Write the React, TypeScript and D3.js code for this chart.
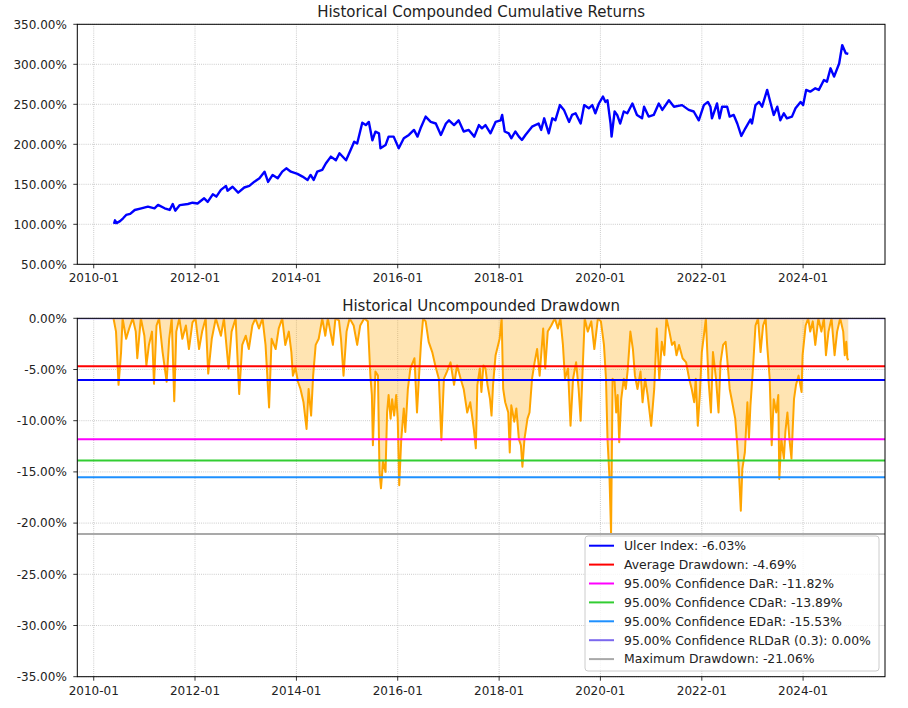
import { useMemo } from "react";
import * as d3 from "d3";

const WIDTH = 908;
const HEIGHT = 708;
const TOP = { left: 77.3, right: 885, top: 24.3, bottom: 264.3 };
const BOTTOM = { left: 77.3, right: 885, top: 318.3, bottom: 676.7 };
const FONT = "DejaVu Sans, sans-serif";

// [decimal year, cumulative return in %]
const cumulative: [number, number][] = [
  [2010.4, 100.5], [2010.42, 105], [2010.45, 101.5], [2010.52, 104], [2010.58, 107.5],
  [2010.64, 111.7], [2010.72, 113], [2010.81, 117.9], [2010.94, 120], [2011.07, 122],
  [2011.2, 120], [2011.27, 124.2], [2011.4, 120], [2011.5, 117.9], [2011.56, 125.4],
  [2011.61, 117], [2011.7, 124], [2011.86, 125.4], [2011.95, 127], [2012.05, 126],
  [2012.18, 132.5], [2012.25, 128], [2012.35, 137.5], [2012.42, 134.6], [2012.51, 143],
  [2012.61, 148], [2012.64, 142], [2012.74, 147], [2012.85, 139.6], [2012.97, 146],
  [2013.07, 148], [2013.17, 153.3], [2013.27, 157.5], [2013.37, 165.8], [2013.44, 153],
  [2013.53, 161.7], [2013.63, 157.5], [2013.72, 165.8], [2013.8, 170], [2013.89, 165.8],
  [2014.02, 163], [2014.12, 159.6], [2014.22, 155.4], [2014.28, 161.7], [2014.34, 155.4],
  [2014.41, 165.8], [2014.51, 168], [2014.58, 176], [2014.68, 184.6], [2014.78, 180],
  [2014.85, 188.8], [2014.98, 180], [2015.07, 193], [2015.14, 203.3], [2015.2, 201],
  [2015.3, 227], [2015.37, 224], [2015.43, 228], [2015.5, 205], [2015.56, 215.8],
  [2015.63, 213.7], [2015.66, 195], [2015.76, 199], [2015.82, 209.6], [2015.92, 209.6],
  [2016.02, 195], [2016.12, 207.5], [2016.22, 211.7], [2016.32, 218], [2016.39, 209.6],
  [2016.45, 220], [2016.55, 234.6], [2016.65, 228], [2016.75, 226], [2016.85, 211.7],
  [2016.95, 226], [2017.01, 230], [2017.11, 224], [2017.2, 230], [2017.3, 216],
  [2017.4, 218], [2017.51, 209.6], [2017.6, 224], [2017.66, 220], [2017.73, 224],
  [2017.83, 213.7], [2017.93, 228], [2018.03, 230], [2018.06, 236.7], [2018.11, 216],
  [2018.19, 213.7], [2018.24, 207.5], [2018.32, 216], [2018.39, 209.6], [2018.45, 205.4],
  [2018.52, 211.7], [2018.65, 222], [2018.78, 226], [2018.83, 218], [2018.89, 232.5],
  [2018.98, 213.7], [2019.05, 232.5], [2019.11, 230], [2019.2, 249], [2019.28, 243],
  [2019.38, 228], [2019.44, 236.7], [2019.51, 238.8], [2019.61, 226], [2019.68, 249],
  [2019.77, 245], [2019.84, 249], [2019.9, 238.8], [2019.97, 251], [2020.05, 259.6],
  [2020.1, 253], [2020.14, 255], [2020.2, 226], [2020.22, 209.6], [2020.28, 241],
  [2020.33, 236.7], [2020.39, 226], [2020.46, 241], [2020.53, 238.8], [2020.63, 251],
  [2020.72, 236.7], [2020.82, 232.5], [2020.86, 247], [2020.95, 234.6], [2021.05, 236.7],
  [2021.15, 251], [2021.22, 243], [2021.35, 255], [2021.45, 247], [2021.61, 249],
  [2021.74, 243], [2021.84, 241], [2021.94, 230], [2022.04, 249], [2022.12, 253],
  [2022.17, 247], [2022.2, 232.5], [2022.3, 251], [2022.35, 232.5], [2022.4, 247],
  [2022.5, 247], [2022.55, 234.6], [2022.63, 236.7], [2022.7, 226], [2022.78, 210.4],
  [2022.86, 220], [2022.96, 231], [2022.99, 226], [2023.06, 249], [2023.13, 253],
  [2023.19, 247], [2023.29, 268], [2023.36, 251], [2023.42, 236.7], [2023.49, 247],
  [2023.55, 230], [2023.62, 238.8], [2023.68, 232.5], [2023.78, 234.6], [2023.85, 245],
  [2023.95, 253], [2024.0, 249], [2024.06, 268], [2024.14, 265.8], [2024.24, 270],
  [2024.31, 268], [2024.41, 280.4], [2024.47, 278.3], [2024.54, 295], [2024.61, 284.6],
  [2024.71, 301], [2024.77, 324], [2024.84, 313.8], [2024.89, 313],
];

// [decimal year, uncompounded drawdown in %]
const drawdown: [number, number][] = [
  [2010.39, 0], [2010.44, -1.3], [2010.49, -6.5], [2010.54, -3.3], [2010.57, 0],
  [2010.64, -2], [2010.7, -1], [2010.77, 0], [2010.83, -1.3], [2010.86, -3.9],
  [2010.93, 0], [2011.0, -1.7], [2011.04, -4.6], [2011.09, -2.6], [2011.15, -1.3],
  [2011.19, -6.4], [2011.24, -0.7], [2011.29, 0], [2011.36, -3.3], [2011.44, -6.2],
  [2011.49, -2], [2011.54, 0], [2011.59, -8.1], [2011.63, -1.3], [2011.69, 0],
  [2011.75, -2], [2011.82, -0.7], [2011.88, -3], [2011.95, -0.4], [2012.01, 0],
  [2012.08, -3], [2012.14, -1.3], [2012.21, 0], [2012.26, -5.4], [2012.33, -2],
  [2012.41, 0], [2012.51, -1.7], [2012.57, 0], [2012.66, -4.9], [2012.72, -1.3],
  [2012.8, 0], [2012.87, -7.4], [2012.93, -2.6], [2013.0, -1.7], [2013.06, -3],
  [2013.13, -0.7], [2013.19, 0], [2013.26, -1], [2013.33, 0], [2013.39, -2.6],
  [2013.46, -8.7], [2013.51, -2], [2013.59, -3], [2013.65, -1], [2013.72, 0],
  [2013.78, -2.6], [2013.85, -1.3], [2013.9, -3.3], [2013.93, -5.6], [2013.98, -4.8],
  [2014.03, -6.2], [2014.08, -6.9], [2014.14, -8.2], [2014.2, -10.8], [2014.24, -6.9],
  [2014.29, -9.5], [2014.33, -5.6], [2014.38, -2.6], [2014.44, -2], [2014.51, 0],
  [2014.57, -1.7], [2014.62, 0], [2014.67, -1.3], [2014.72, -2.6], [2014.77, 0],
  [2014.84, -0.2], [2014.88, -2], [2014.93, -5.6], [2014.99, -1.3], [2015.05, 0],
  [2015.13, -0.7], [2015.2, -2.6], [2015.26, -0.7], [2015.34, 0], [2015.41, -0.3],
  [2015.46, -5.6], [2015.49, -7.5], [2015.51, -12.4], [2015.56, -5.2], [2015.61, -5.6],
  [2015.64, -15], [2015.67, -16.6], [2015.71, -14], [2015.76, -15], [2015.79, -9.2],
  [2015.82, -7.5], [2015.86, -9.8], [2015.89, -7.9], [2015.93, -9.5], [2015.97, -7.5],
  [2016.0, -9.8], [2016.03, -16.3], [2016.07, -11.8], [2016.12, -8.8], [2016.15, -11.1],
  [2016.2, -6.9], [2016.25, -4.9], [2016.33, -3.9], [2016.38, -9.2], [2016.41, -6.5],
  [2016.46, -2.3], [2016.5, 0], [2016.55, -0.3], [2016.61, -2.3], [2016.68, -3.3],
  [2016.74, -4.6], [2016.81, -5.9], [2016.86, -11.9], [2016.91, -5.9], [2016.97, -5.2],
  [2017.04, -4.3], [2017.11, -6.5], [2017.17, -4.6], [2017.24, -5.9], [2017.3, -6.9],
  [2017.37, -9.2], [2017.43, -8.2], [2017.5, -10.8], [2017.54, -12.7], [2017.57, -6.5],
  [2017.62, -4.9], [2017.65, -7.2], [2017.69, -4.6], [2017.73, -4.9], [2017.77, -6.5],
  [2017.82, -7.9], [2017.85, -9.5], [2017.88, -6.5], [2017.93, -3.6], [2017.98, -2.6],
  [2018.01, -2], [2018.05, 0], [2018.08, -6.9], [2018.12, -8.2], [2018.18, -9.2],
  [2018.21, -13.1], [2018.24, -8.5], [2018.3, -10.1], [2018.34, -8.8], [2018.39, -11.8],
  [2018.43, -12.4], [2018.46, -14.5], [2018.5, -11.8], [2018.56, -9.8], [2018.6, -9.2],
  [2018.65, -5.9], [2018.7, -4.3], [2018.75, -3], [2018.8, -5.6], [2018.87, -1],
  [2018.91, -4.9], [2018.96, -1.3], [2019.03, -0.7], [2019.1, 0], [2019.16, -1],
  [2019.21, 0], [2019.26, -2.6], [2019.3, -5.9], [2019.36, -4.9], [2019.41, -10.5],
  [2019.46, -5.9], [2019.52, -4.3], [2019.57, -6.9], [2019.61, -10], [2019.65, -4.9],
  [2019.69, 0], [2019.75, -1.3], [2019.82, -0.3], [2019.88, -3], [2019.95, 0],
  [2020.01, -0.3], [2020.07, -2.6], [2020.11, -5.9], [2020.14, -11.8], [2020.18, -15.7],
  [2020.21, -21.06], [2020.24, -5.9], [2020.28, -6.2], [2020.31, -9.2], [2020.34, -7.5],
  [2020.37, -12.1], [2020.41, -7.9], [2020.46, -5.9], [2020.5, -6.9], [2020.54, -4.9],
  [2020.59, -1.3], [2020.64, -3], [2020.68, -5.6], [2020.73, -6.9], [2020.79, -5.2],
  [2020.83, -8.2], [2020.88, -5.9], [2020.93, -7.5], [2021.0, -10.5], [2021.06, -6.9],
  [2021.11, -1], [2021.16, -6], [2021.21, -2.3], [2021.26, -3.6], [2021.3, 0],
  [2021.36, -1.3], [2021.41, -2.6], [2021.46, -2.3], [2021.5, -3.6], [2021.55, -2.6],
  [2021.62, -3.9], [2021.69, -4.3], [2021.75, -5.9], [2021.8, -6.9], [2021.85, -8.2],
  [2021.88, -5.9], [2021.92, -10.5], [2021.96, -7.5], [2022.0, -3.3], [2022.05, -1.3],
  [2022.08, 0], [2022.13, -5.9], [2022.18, -9.2], [2022.22, -3.3], [2022.28, -5.9],
  [2022.33, -9.2], [2022.37, -4.3], [2022.42, -2.6], [2022.47, -2.3], [2022.5, -3.9],
  [2022.55, -6.9], [2022.6, -8.2], [2022.66, -9.8], [2022.7, -12.4], [2022.73, -14.7],
  [2022.77, -18.8], [2022.8, -14.7], [2022.85, -13.1], [2022.9, -8.2], [2022.93, -11.8],
  [2022.96, -8.5], [2023.01, -4.9], [2023.06, -0.7], [2023.11, 0], [2023.16, -3.3],
  [2023.21, -0.7], [2023.26, 0], [2023.29, -2.6], [2023.34, -5.9], [2023.38, -12.4],
  [2023.42, -7.9], [2023.47, -9.2], [2023.51, -7.5], [2023.53, -15.7], [2023.57, -11.8],
  [2023.62, -13.7], [2023.65, -11.1], [2023.69, -9.2], [2023.73, -11.8], [2023.77, -13.7],
  [2023.82, -7.9], [2023.86, -6.5], [2023.91, -5.6], [2023.97, -7.2], [2023.99, -3.6],
  [2024.05, -0.7], [2024.1, 0], [2024.14, -1.3], [2024.19, -0.3], [2024.24, -2.6],
  [2024.3, 0], [2024.36, -1.3], [2024.41, 0], [2024.45, -3.6], [2024.5, -1.3],
  [2024.56, 0], [2024.62, -3.6], [2024.67, -1.3], [2024.73, 0], [2024.79, -1.3],
  [2024.82, -3.6], [2024.85, -2.3], [2024.87, -3.9], [2024.89, -4.1],
];

const riskLabels = [
  "Ulcer Index: -6.03%",
  "Average Drawdown: -4.69%",
  "95.00% Confidence DaR: -11.82%",
  "95.00% Confidence CDaR: -13.89%",
  "95.00% Confidence EDaR: -15.53%",
  "95.00% Confidence RLDaR (0.3): 0.00%",
  "Maximum Drawdown: -21.06%",
];
const riskValues = [-6.03, -4.69, -11.82, -13.89, -15.53, 0, -21.06];
const riskColors = ["#0000ff", "#ff0000", "#ff00ff", "#32cd32", "#1e90ff", "#7b68ee", "#a9a9a9"];

const topTicks = [50, 100, 150, 200, 250, 300, 350];
const bottomTicks = [0, -5, -10, -15, -20, -25, -30, -35];
const xTickYears = [2010, 2012, 2014, 2016, 2018, 2020, 2022, 2024];

const yearToDate = (v: number) => {
  const y = Math.floor(v);
  const a = Date.UTC(y, 0, 1);
  const b = Date.UTC(y + 1, 0, 1);
  return new Date(a + (v - y) * (b - a));
};

const pct = (v: number) => `${v.toFixed(2)}%`;
const fmtDate = d3.utcFormat("%Y-%m");

type Box = { left: number; right: number; top: number; bottom: number };

const Frame = ({
  box,
  x,
  y,
  yTicks,
  id,
  title,
  children,
}: {
  box: Box;
  x: d3.ScaleTime<number, number>;
  y: d3.ScaleLinear<number, number>;
  yTicks: number[];
  id: string;
  title: string;
  children: React.ReactNode;
}) => {
  const xTicks = xTickYears.map((yr) => new Date(Date.UTC(yr, 0, 1)));
  return (
    <g>
      <defs>
        <clipPath id={id}>
          <rect x={box.left} y={box.top} width={box.right - box.left} height={box.bottom - box.top} />
        </clipPath>
      </defs>
      {/* grid */}
      {xTicks.map((t, i) => (
        <line key={"gx" + i} x1={x(t)} x2={x(t)} y1={box.top} y2={box.bottom}
          stroke="#b0b0b0" strokeWidth={0.8} strokeDasharray="0.8,1.3" />
      ))}
      {yTicks.map((t, i) => (
        <line key={"gy" + i} x1={box.left} x2={box.right} y1={y(t)} y2={y(t)}
          stroke="#b0b0b0" strokeWidth={0.8} strokeDasharray="0.8,1.3" />
      ))}
      <g clipPath={`url(#${id})`}>{children}</g>
      <rect x={box.left} y={box.top} width={box.right - box.left} height={box.bottom - box.top}
        fill="none" stroke="#000" strokeWidth={1} />
      {/* ticks */}
      {xTicks.map((t, i) => (
        <g key={"tx" + i} transform={`translate(${x(t)},${box.bottom})`}>
          <line y2={4} stroke="#000" strokeWidth={0.8} />
          <text y={18} textAnchor="middle" fontSize={12} fontFamily={FONT} fill="#222">{fmtDate(t)}</text>
        </g>
      ))}
      {yTicks.map((t, i) => (
        <g key={"ty" + i} transform={`translate(${box.left},${y(t)})`}>
          <line x2={-4} stroke="#000" strokeWidth={0.8} />
          <text x={-10.5} dy="0.35em" textAnchor="end" fontSize={12} fontFamily={FONT} fill="#222">{pct(t)}</text>
        </g>
      ))}
      <text x={(box.left + box.right) / 2} y={box.top - 7} textAnchor="middle" fontSize={15}
        fontFamily={FONT} fill="#222">{title}</text>
    </g>
  );
};

export default function App() {
  const xScale = useMemo(() => {
    const [a, b] = d3.extent(cumulative, (d) => d[0]) as [number, number];
    const pad = (b - a) * 0.05;
    return d3.scaleUtc().domain([yearToDate(a - pad), yearToDate(b + pad)]).range([TOP.left, TOP.right]);
  }, []);
  const yTop = useMemo(() => d3.scaleLinear().domain([50, 350]).range([TOP.bottom, TOP.top]), []);
  const yBottom = useMemo(() => d3.scaleLinear().domain([-35, 0]).range([BOTTOM.bottom, BOTTOM.top]), []);

  const cumLine = d3.line<[number, number]>().x((d) => xScale(yearToDate(d[0]))).y((d) => yTop(d[1]))(cumulative) ?? "";
  const ddLine = d3.line<[number, number]>().x((d) => xScale(yearToDate(d[0]))).y((d) => yBottom(d[1]))(drawdown) ?? "";
  const ddArea = d3.area<[number, number]>()
    .x((d) => xScale(yearToDate(d[0])))
    .y0(yBottom(0))
    .y1((d) => yBottom(d[1]))(drawdown) ?? "";

  const legend = { x: 585, y: 536, w: 294, h: 135, row: 18.9 };

  return (
    <svg width={WIDTH} height={HEIGHT} style={{ position: "absolute", left: 0, top: 0, background: "#fff" }}>
      <rect width={WIDTH} height={HEIGHT} fill="#fff" />
      <Frame box={TOP} x={xScale} y={yTop} yTicks={topTicks} id="clipTop" title="Historical Compounded Cumulative Returns">
        <path d={cumLine} fill="none" stroke="#0000ff" strokeWidth={2.4} strokeLinejoin="round" />
      </Frame>
      <Frame box={BOTTOM} x={xScale} y={yBottom} yTicks={bottomTicks} id="clipBottom" title="Historical Uncompounded Drawdown">
        <path d={ddArea} fill="orange" fillOpacity={0.3} />
        <path d={ddLine} fill="none" stroke="orange" strokeWidth={2} strokeLinejoin="round" />
        {riskValues.map((v, i) => (
          <line key={i} x1={BOTTOM.left} x2={BOTTOM.right} y1={yBottom(v)} y2={yBottom(v)}
            stroke={riskColors[i]} strokeWidth={2} />
        ))}
      </Frame>
      <g>
        <rect x={legend.x} y={legend.y} width={legend.w} height={legend.h} rx={3}
          fill="#fff" fillOpacity={0.8} stroke="#cccccc" strokeWidth={1} />
        {riskLabels.map((label, i) => {
          const cy = legend.y + 9.7 + i * legend.row;
          return (
            <g key={label}>
              <line x1={legend.x + 4} x2={legend.x + 29} y1={cy} y2={cy} stroke={riskColors[i]} strokeWidth={2} />
              <text x={legend.x + 39} y={cy} dy="0.35em" fontSize={12.4} fontFamily={FONT} fill="#222">{label}</text>
            </g>
          );
        })}
      </g>
    </svg>
  );
}
